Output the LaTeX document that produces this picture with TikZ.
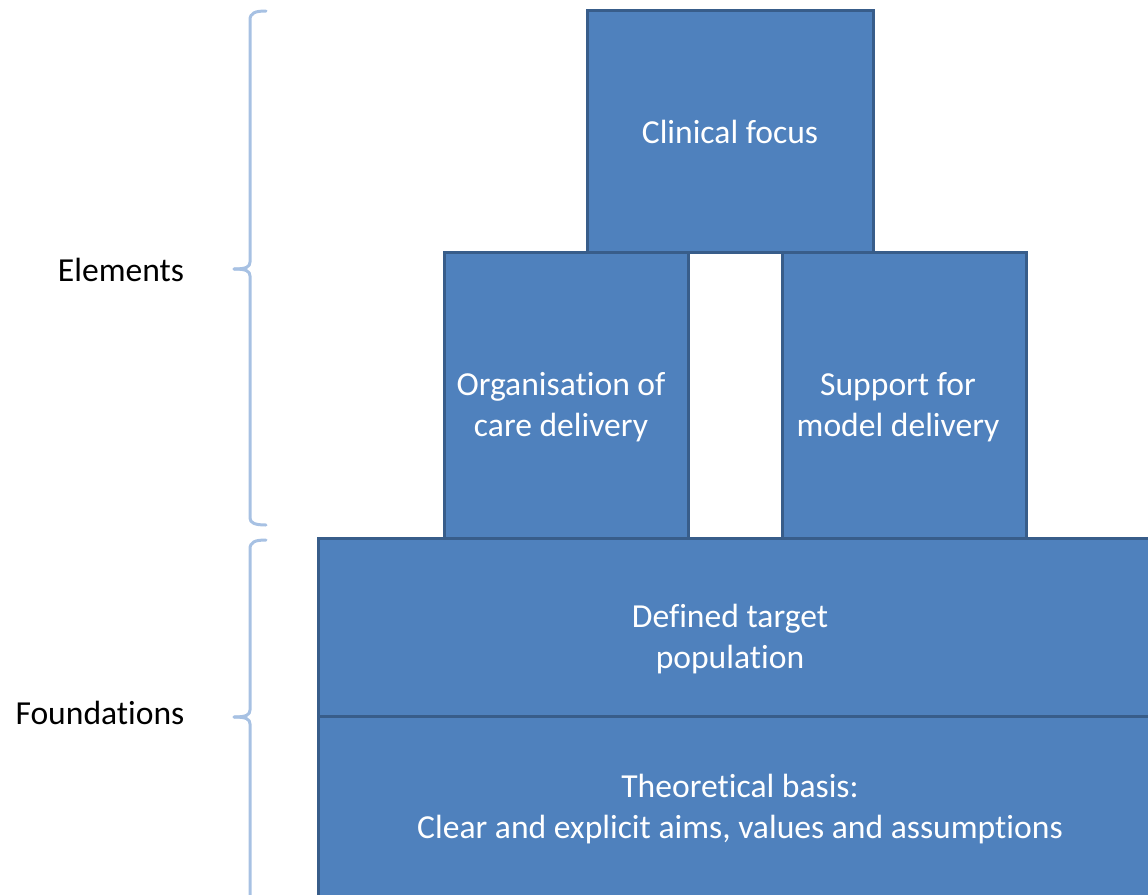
\documentclass[tikz,border=0pt]{standalone}
\usepackage{fontspec}
\setmainfont[Ligatures={NoCommon}]{Carlito}
\definecolor{fillblue}{HTML}{4F81BD}
\definecolor{edgeblue}{HTML}{385D8A}
\definecolor{bracecol}{HTML}{A7C1E3}
\begin{document}
\begin{tikzpicture}[x=1pt,y=-1pt,
  blk/.style={draw=edgeblue, fill=fillblue, line width=3pt, inner sep=0pt},
  wtxt/.style={text=white, align=center, inner sep=0pt, font=\fontsize{33.6}{41}\selectfont},
  lbl/.style={text=black, inner sep=0pt, font=\fontsize{33.6}{41}\selectfont},
  bracestyle/.style={draw=bracecol, line width=3pt, line cap=round, line join=round}]
\useasboundingbox (0,0) rectangle (1148,894);
\clip (0,0) rectangle (1148,894);
% boxes
\node[blk, minimum width=852pt, minimum height=178pt] (target) at (744,627) {};
\node[blk, minimum width=852pt, minimum height=200pt] (theory) at (744,816) {};
\node[blk, minimum width=244pt, minimum height=286pt] (org) at (566,395) {};
\node[blk, minimum width=244pt, minimum height=286pt] (support) at (904,395) {};
\node[blk, minimum width=286pt, minimum height=242pt] (clin) at (730,131) {};
% texts
\node[wtxt] (clintxt) at (730,132) {Clinical focus};
\node[wtxt] (orgtxt) at (561,407) {Organisation of\\care delivery};
\node[wtxt] (suptxt) at (898,407) {Support for\\model delivery};
\node[wtxt] (targettxt) at (730,639) {Defined target\\population};
\node[wtxt] (theorytxt) at (740,809) {Theoretical basis:\\Clear and explicit aims, values and assumptions};
\node[lbl] (elements) at (121,270) {Elements};
\node[lbl] (foundations) at (100,713) {Foundations};
% braces
\draw[bracestyle] (266,11) .. controls (255,11) and (250,13) .. (250,20) -- (250,262)
  .. controls (250,267) and (246,269) .. (234,269);
\draw[bracestyle] (234,269) .. controls (246,269) and (250,271) .. (250,276) -- (250,518)
  .. controls (250,523) and (255,525) .. (266,525);
\draw[bracestyle] (266,540) .. controls (255,540) and (250,542) .. (250,549) -- (250,710)
  .. controls (250,715) and (246,717) .. (234,717);
\draw[bracestyle] (234,717) .. controls (246,717) and (250,719) .. (250,724) -- (250,900);
\end{tikzpicture}
\end{document}
